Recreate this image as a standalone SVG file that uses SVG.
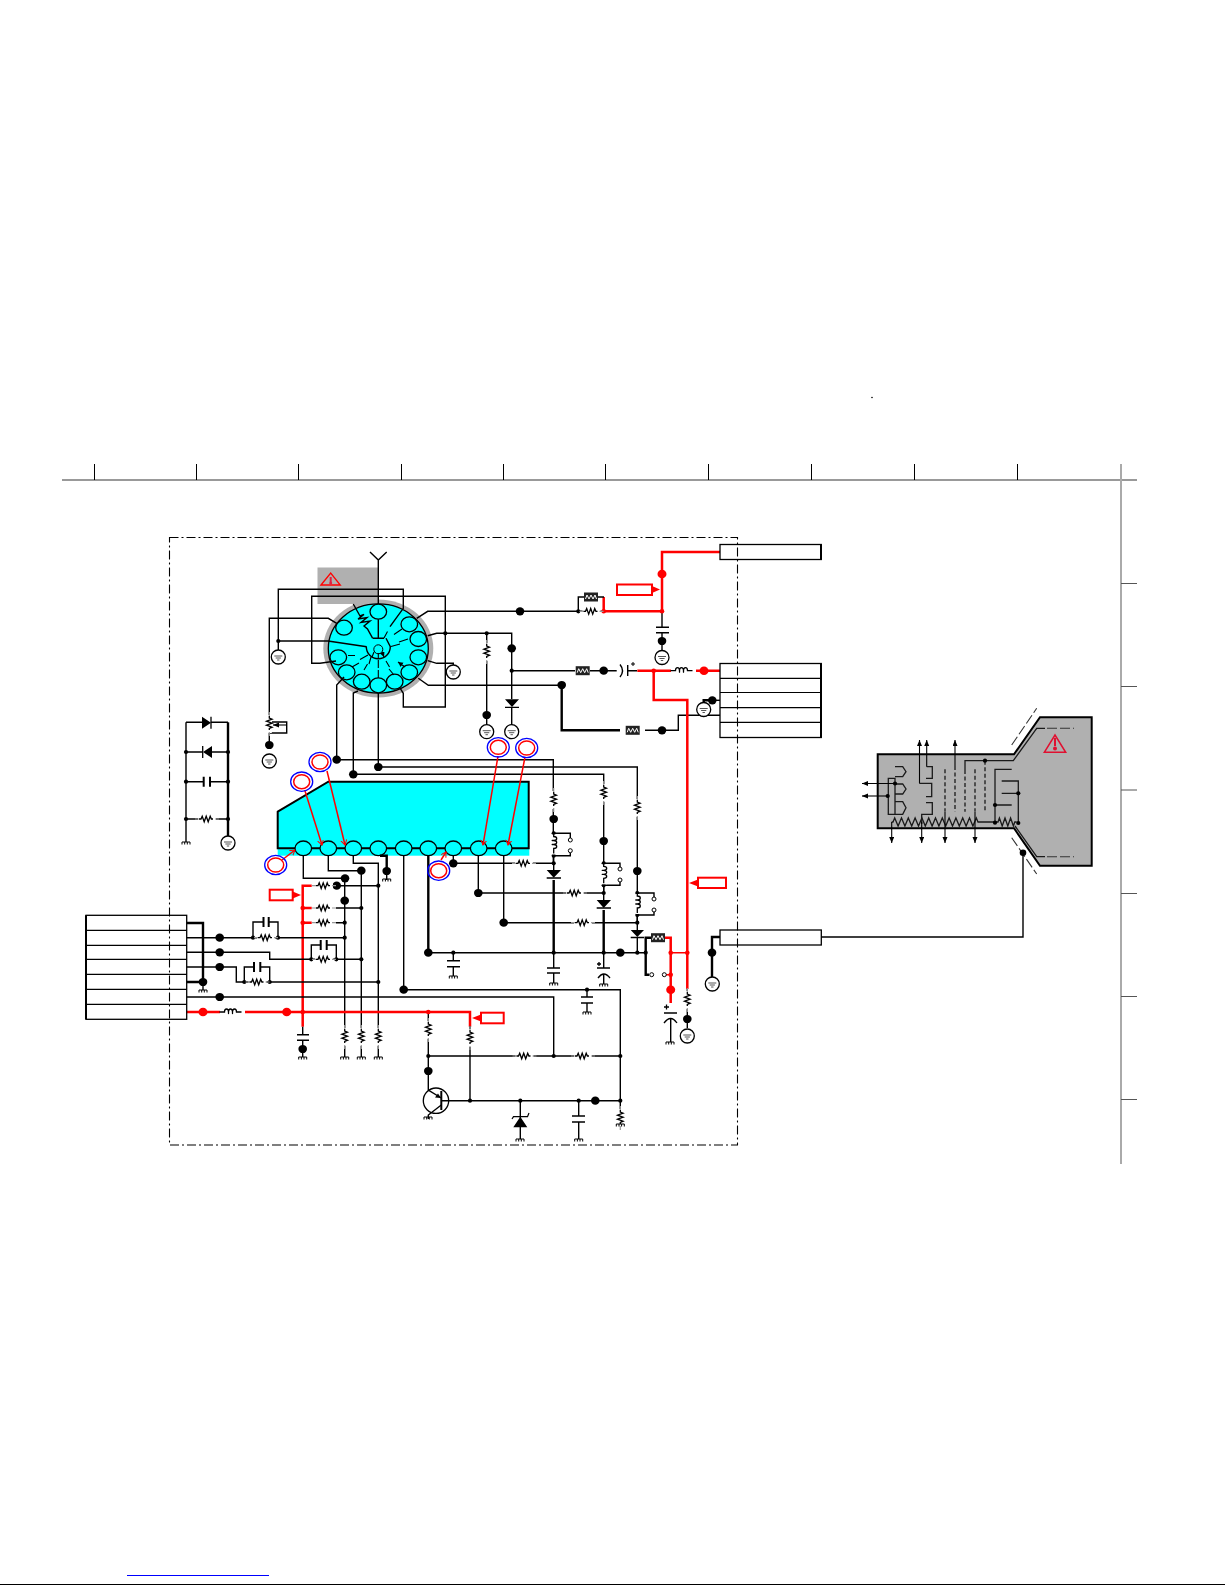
<svg xmlns="http://www.w3.org/2000/svg" width="1225" height="1585" viewBox="0 0 1225 1585">
<style>
.w{stroke:#000;stroke-width:1.4;fill:none}
.t{stroke:#000;stroke-width:2.4;fill:none}
.r{stroke:#f00;stroke-width:2.5;fill:none}
.rt{stroke:#f00;stroke-width:1.4;fill:none}
.f{fill:#000}
.rf{fill:#f00}
.pin{fill:#0ff;stroke:#000;stroke-width:1.3}
.lb{fill:#fff;stroke:#f00;stroke-width:2}
.ov{fill:none;stroke:#00f;stroke-width:1.3}
.ovr{fill:#fff;stroke:#f00;stroke-width:1.5}
.ptr{stroke:#f00;stroke-width:1.5;fill:none;marker-end:url(#ra)}
.a{stroke:#000;stroke-width:1.1;fill:none;marker-end:url(#ba)}
.ta{stroke:#000;stroke-width:1.1;fill:none;marker-end:url(#ba2)}
.frame{stroke:#000;stroke-width:1.1;fill:none;stroke-dasharray:9 3 2 3}
.tw{stroke:#1a1a1a;stroke-width:1.3;fill:none}
.td{stroke:#1a1a1a;stroke-width:1.3;fill:none;stroke-dasharray:4 2.5}
.tdl{stroke:#333;stroke-width:1.1;fill:none;stroke-dasharray:10 3}
</style>
<defs>
<marker id="ra" markerWidth="7" markerHeight="7" refX="5" refY="3" orient="auto" markerUnits="userSpaceOnUse"><path d="M0,0L5,3L0,6" fill="none" stroke="#f00" stroke-width="1"/></marker>
<marker id="ba" markerWidth="8" markerHeight="7" refX="6" refY="2.500" orient="auto" markerUnits="userSpaceOnUse"><path d="M0,0L6,2.500L0,5z" fill="#000"/></marker>
<marker id="ba2" markerWidth="7" markerHeight="6" refX="5" refY="2.500" orient="auto" markerUnits="userSpaceOnUse"><path d="M0,0L5,2.500L0,5z" fill="#000"/></marker>
<circle id="j" r="2.100" class="f"/>
<circle id="jr" r="2.300" class="rf"/>
<ellipse id="d" rx="4.300" ry="4.100" class="f"/>
<ellipse id="dr" rx="4.500" ry="4.300" class="rf"/>
<g id="R"><rect x="-9" y="-2.500" width="18" height="5" fill="#fff"/><path d="M-12,0h4M8,0h4" stroke="#999" stroke-width="1.2" fill="none"/><path d="M-8,0h2l1.200,-2.800l2,5.600l2,-5.600l2,5.600l2,-5.600l1.200,2.800h1.600" stroke="#000" stroke-width="1.3" fill="none"/></g>
<g id="FR"><rect x="-7" y="-4.500" width="14" height="9" fill="#222"/><path d="M-5.500,2l1.500,-4l2,4l2,-4l2,4l2,-4l1.500,4" stroke="#fff" stroke-width="1" fill="none"/></g>
<path id="gs" d="M-4,0h8M-4,0v2.500M-1.300,0v2.500M1.300,0v2.500M4,0v2.500" stroke="#000" stroke-width="1" fill="none"/>
<g id="gc"><circle r="7" fill="#fff" stroke="#000" stroke-width="1.300"/><path d="M-4,-1h8M-2.600,1h5.200M-1.200,3h2.400" stroke="#555" stroke-width="1" fill="none"/></g>
<g id="coil"><rect x="-10" y="-3" width="20" height="5" fill="#fff"/><path d="M-13,0h5c0,-4 4,-4 4,0c0,2 0,2 0,0c0,-4 4,-4 4,0c0,2 0,2 0,0c0,-4 4,-4 4,0h5" stroke="#000" stroke-width="1.300" fill="none"/></g>
<circle id="o" r="2" fill="#fff" stroke="#000" stroke-width="1"/>
</defs>
<rect width="1225" height="1585" fill="#fff"/>
<g id="border">
<path d="M62,480H1137" stroke="#777" stroke-width="1.400"/>
<path d="M94.500,464V480M196.500,464V480M298.500,464V480M401.500,464V480M503.500,464V480M605.500,464V480M708.500,464V480M811.500,464V480M914.500,464V480M1017.500,464V480" stroke="#000" stroke-width="1"/>
<path d="M1121,464V1164" stroke="#aaa" stroke-width="2"/>
<path d="M1121,583.500H1137M1121,686.500H1137M1121,790H1137M1121,893.500H1137M1121,996.500H1137M1121,1099.500H1137" stroke="#555" stroke-width="1"/>
<circle cx="872" cy="397.500" r="0.800" fill="#000"/>
<path d="M127,1575.500H269" stroke="#00f" stroke-width="1.200"/>
<path d="M0,1584.500H1225" stroke="#000" stroke-width="1"/>
</g>
<rect id="board-frame" x="169.500" y="537.500" width="568" height="607.500" class="frame"/>
<g id="warning-box">
<rect x="317.500" y="567.500" width="60.500" height="36.500" fill="#b0b0b0"/>
<path d="M321,585L330.700,573L340.300,585z" fill="none" stroke="#f00" stroke-width="1.300"/><path d="M330.700,577V582" stroke="#e02040" stroke-width="2"/><circle cx="330.700" cy="583" r="1.500" fill="#e02040"/>
</g>
<g id="crt-socket">
<ellipse cx="378.300" cy="648.500" rx="55" ry="49" fill="#b0b0b0"/>
<ellipse cx="378.300" cy="648.500" rx="50" ry="44.700" fill="#0ff" stroke="#000" stroke-width="1.300"/>
<ellipse class="pin" cx="378.300" cy="611.700" rx="8.300" ry="7.500"/>
<ellipse class="pin" cx="344" cy="627.700" rx="8.300" ry="7.500"/>
<ellipse class="pin" cx="409.300" cy="624.300" rx="8.300" ry="7.500"/>
<ellipse class="pin" cx="418.300" cy="639" rx="8.300" ry="7.500"/>
<ellipse class="pin" cx="418.300" cy="657.300" rx="8.300" ry="7.500"/>
<ellipse class="pin" cx="409.300" cy="672.300" rx="8.300" ry="7.500"/>
<ellipse class="pin" cx="394.700" cy="681.700" rx="8.300" ry="7.500"/>
<ellipse class="pin" cx="378.300" cy="685.300" rx="8.300" ry="7.500"/>
<ellipse class="pin" cx="361.700" cy="681.700" rx="8.300" ry="7.500"/>
<ellipse class="pin" cx="346.700" cy="672.300" rx="8.300" ry="7.500"/>
<ellipse class="pin" cx="338.300" cy="657.300" rx="8.300" ry="7.500"/>
<path class="w" d="M366.300,646.700A12,12 0 0 0 390.300,646.700L386,638.300M378.300,619.200V638.300M373,638.300H384"/>
<path class="w" d="M353.300,604L360,616L364,614.500L358,619L367,617.500L361,622.500L370,621L364,626L367.500,629L372.700,638.300"/>
<circle cx="378.300" cy="649.300" r="4.500" fill="none" stroke="#000" stroke-width="1"/>
<path class="ta" d="M384,638L387.500,631.500M402,629L394,634.500M408,639L399,642M391,646.500L400,644M348,655.500L355,655.500M368,655L360,659.500M352,667L359,663M364,670L367.500,664M371,657L369,664M378.300,660V668M386,661L389.500,667M378.300,678V670M394,675L389,669M405,667L398,662"/>
<path class="ta" d="M374,652L372,657M378.300,653V658M382,652L384,657"/>
</g>
<g id="ic">
<rect x="277.700" y="848" width="251.600" height="7.700" fill="#0ff"/>
<path d="M277.700,811.700L328.300,781.700H528.700V848.300H277.700z" fill="#0ff" stroke="#000" stroke-width="2"/>
<ellipse class="pin" cx="303.300" cy="848.300" rx="8.300" ry="7.300"/>
<ellipse class="pin" cx="328.300" cy="848.300" rx="8.300" ry="7.300"/>
<ellipse class="pin" cx="353.300" cy="848.300" rx="8.300" ry="7.300"/>
<ellipse class="pin" cx="378.300" cy="848.300" rx="8.300" ry="7.300"/>
<ellipse class="pin" cx="403.700" cy="848.300" rx="8.300" ry="7.300"/>
<ellipse class="pin" cx="428.300" cy="848.300" rx="8.300" ry="7.300"/>
<ellipse class="pin" cx="453.300" cy="848.300" rx="8.300" ry="7.300"/>
<ellipse class="pin" cx="478.700" cy="848.300" rx="8.300" ry="7.300"/>
<ellipse class="pin" cx="503.700" cy="848.300" rx="8.300" ry="7.300"/>
</g>
<g id="connectors">
<path class="w" d="M370,552L378.300,560L386.700,552M378.300,560V604"/>
<path class="w" d="M278.300,650V589.300H403.300V608.300L390,626.700"/>
<path class="w" d="M278.300,641H328L366.700,646.700"/>
<path class="w" d="M336,661L320,663.300H311.700V596.300H445.300V707H403.300V693.300L400,688"/>
<path class="w" d="M269.300,716V618.300H328.300L336.700,623.300"/>
<path class="w" d="M269.300,730V745M272,722H286.700V733H269.300"/>
<path class="w" d="M416.700,618.300L427.700,611.300H578.300"/>
<path class="w" d="M427.700,635.700L436.700,633.300H511.700V699M511.700,707V725M486.700,633.300V725"/>
<path class="w" d="M427.700,660.700L436.700,663.300H453.300V666"/>
<path class="w" d="M418.300,678.300L428.300,685.300H561.700"/>
<path class="t" d="M561.700,685.300V730.300H620"/>
<path class="w" d="M645,730.300H678.300V715.300H720"/>
<path class="w" d="M344,677L336.700,685V759.700H553.300V862"/>
<path class="w" d="M358,691L353.300,693V774.300H603.700V893"/>
<path class="w" d="M378.300,693V767H637.300V923"/>
<path class="r" d="M720,552H662V611.300H603.700V597"/>
<path class="w" d="M578.300,611.300V597H584M598,597H604M578.300,611.300H604"/>
<path class="w" d="M662,611.300V627.300M662,632.700V650"/>
<path class="w" d="M511.700,670.700H575M590,670.700H616.700M627.700,670.700H637"/>
<path class="w" d="M620,664.500Q625,670.700 620,677M627.700,665V676"/>
<path class="r" d="M637.300,670.700H671M696,670.700H720M653.700,670.700V700H687.300V989"/>
<path class="t" d="M712.300,700.300H703.700V706"/>
<path class="w" d="M712,700.300H720"/>
<path class="w" d="M687.300,989V1028"/>
<path class="w" d="M553.700,833.300H570.300V838M570.300,852.700V855.700H553.700M553.700,855.700V870"/>
<path class="w" d="M603.700,863.300H620V867M620,882V885.300H603.700M603.700,885.300V900"/>
<path class="w" d="M637.300,893H654V897M654,912V915H637.300M637.300,915V930"/>
<path class="t" d="M553.700,880V952.700M603.700,910V952.700"/>
<path class="w" d="M603.700,952.700V968M553.700,952.700V968M553.700,973V983M603.700,974V984"/>
<path class="w" d="M637.300,938V952.700"/>
<path class="w" d="M453.300,856V863.300H553.700M478.300,856V893H603.700M503.700,856V922.700H637.300"/>
<path class="t" d="M428.300,856V952.700"/>
<path class="w" d="M428.300,952.700H645.700M453.300,952.700V960.700M453.300,966.700V976"/>
<path class="t" d="M651,937.700H645.700V974.700H649"/>
<path class="r" d="M665,937.700H670.700V1003"/>
<path class="rt" d="M670.700,952.700H687.300M666,974.700H670.700"/>
<path class="w" d="M670.700,1019V1042"/>
<path class="t" d="M720,937H712V980"/>
<path class="w" d="M821,937H1023V853"/>
<path class="w" d="M303.300,856V878.300H345M344.700,878.300V1057M328.300,856V870.700H361.300V1057M353.300,856V863.300H378.300V1057"/>
<path class="t" d="M380,855.700H386.700V871"/>
<path class="w" d="M386.700,871V880"/>
<path class="w" d="M403.700,856V989.700H620.300V1110M587,989.700V997M587,1003V1012"/>
<path class="r" d="M311.700,885.700H302.700V1026.700"/>
<path class="r" d="M303,908H311.700M303,922.700H311.700"/>
<path class="w" d="M336,885.700H378.300M336,908H361.300M336,922.700H344.700"/>
<path class="w" d="M186.700,937.700H344.700M253,937.700V922H263.500M268.700,922H278V937.700"/>
<path class="w" d="M186.700,952.300H269.700V959.300H361.300M311.300,959.300V945H320.700M326.700,945H336.300V959.300"/>
<path class="w" d="M186.700,967H236.300V982H378.300M244.300,982V967H254M260.300,967H269.700V982"/>
<path class="w" d="M186.700,997H553.700V1056"/>
<path class="r" d="M186.700,1012H220M245,1012H470V1026.700"/>
<path class="t" d="M186.700,923H203V982H186.700"/>
<path class="w" d="M203,982V990"/>
<path class="w" d="M302.700,1026.700V1034.700M302.700,1040.300V1057"/>
<path class="w" d="M428.300,1012V1090L441.300,1098M428.300,1056H620.300M470,1026V1100.700"/>
<path class="w" d="M441.300,1100.700H620.300M441.300,1105L428.300,1115V1119"/>
<path class="w" d="M520.300,1100.700V1118M520.300,1127V1139M578.700,1100.700V1116M578.700,1122V1139"/>
<path class="w" d="M620.300,1110V1124"/>
<path class="w" d="M186,722.300V842M186,722.300H202M211,722.300H228M186,752H203M212,752H228M186,781.700H203.700M210,781.700H228M186,819H228"/>
<path class="t" d="M228,722.300V836"/>
<path class="ptr" d="M282,860L295,850"/>
<path class="ptr" d="M304.700,790L322,845"/>
<path class="ptr" d="M327,771L345,845"/>
<path class="ptr" d="M498,756L483,845"/>
<path class="ptr" d="M525,757L508,845"/>
<path class="ptr" d="M441,860L446,852"/>
</g>
<g id="markers">
<use href="#j" x="278.300" y="641"/>
<use href="#j" x="445.300" y="633.300"/><use href="#j" x="486.700" y="633.300"/>
<use href="#j" x="578.300" y="611.300"/>
<use href="#j" x="511.700" y="670.700"/>
<use href="#d" x="269.300" y="745"/><use href="#d" x="520" y="611.300"/>
<use href="#d" x="511.700" y="648.300"/><use href="#d" x="486.700" y="715"/>
<use href="#d" x="561.700" y="685"/><use href="#d" x="662" y="730.300"/>
<use href="#d" x="603.700" y="670.700"/><use href="#d" x="662" y="641"/>
<use href="#d" x="712.300" y="700.300"/>
<use href="#d" x="336.700" y="759.700"/><use href="#d" x="353.300" y="774.300"/><use href="#d" x="378.300" y="767"/>
<use href="#d" x="553.700" y="819"/><use href="#d" x="603.700" y="841"/><use href="#d" x="637.300" y="871"/>
<use href="#j" x="553.700" y="833.300"/><use href="#j" x="553.700" y="855.700"/><use href="#j" x="553.700" y="863.300"/>
<use href="#j" x="603.700" y="863.300"/><use href="#j" x="603.700" y="885.300"/><use href="#j" x="603.700" y="893"/>
<use href="#j" x="637.300" y="893"/><use href="#j" x="637.300" y="915"/><use href="#j" x="637.300" y="922.700"/>
<use href="#d" x="453.300" y="863.300"/><use href="#d" x="478.300" y="893"/><use href="#d" x="503.700" y="922.700"/>
<use href="#d" x="428.300" y="952.700"/><use href="#j" x="453.300" y="952.700"/><use href="#j" x="553.700" y="952.700"/><use href="#j" x="603.700" y="952.700"/><use href="#d" x="620.300" y="952.700"/><use href="#j" x="637.300" y="952.700"/><use href="#j" x="645.700" y="952.700"/>
<use href="#jr" x="670.700" y="952.700"/><use href="#jr" x="687.300" y="952.700"/><use href="#jr" x="670.700" y="974.700"/>
<use href="#dr" x="670.700" y="989.700"/><use href="#d" x="687.300" y="1019"/>
<use href="#d" x="712" y="952.700"/>
<use href="#dr" x="662" y="574"/><use href="#jr" x="662" y="611.300"/><use href="#jr" x="603.700" y="611.300"/>
<use href="#jr" x="653.700" y="670.700"/><use href="#dr" x="704" y="670.700"/>
<use href="#d" x="345" y="878.300"/><use href="#d" x="361.300" y="870.700"/><use href="#d" x="386.700" y="871"/>
<use href="#d" x="336.700" y="885.700"/><use href="#d" x="344.700" y="900.700"/><use href="#j" x="378.300" y="885.700"/>
<use href="#jr" x="302.700" y="908"/><use href="#jr" x="302.700" y="922.700"/>
<use href="#j" x="361.300" y="908"/><use href="#j" x="344.700" y="922.700"/><use href="#j" x="344.700" y="937.700"/>
<use href="#j" x="253" y="937.700"/><use href="#j" x="278" y="937.700"/>
<use href="#j" x="311.300" y="959.300"/><use href="#j" x="336.300" y="959.300"/><use href="#j" x="361.300" y="959.300"/>
<use href="#j" x="244.300" y="982"/><use href="#j" x="269.700" y="982"/><use href="#j" x="378.300" y="982"/>
<use href="#d" x="219.700" y="937.700"/><use href="#d" x="219.700" y="952.300"/><use href="#d" x="219.700" y="967"/><use href="#d" x="219.700" y="997"/>
<use href="#d" x="203" y="982"/><use href="#dr" x="203" y="1012"/><use href="#dr" x="286.700" y="1012"/>
<use href="#jr" x="302.700" y="1012"/><use href="#jr" x="428.300" y="1012"/>
<use href="#d" x="403.700" y="989.700"/><use href="#j" x="587" y="989.700"/>
<use href="#d" x="302.700" y="1049"/>
<use href="#j" x="428.300" y="1056"/><use href="#j" x="553.700" y="1056"/><use href="#j" x="620.300" y="1056"/>
<use href="#d" x="428.300" y="1071"/>
<use href="#j" x="470" y="1100.700"/><use href="#j" x="520.300" y="1100.700"/><use href="#j" x="578.700" y="1100.700"/><use href="#d" x="595.300" y="1100.700"/><use href="#j" x="620.300" y="1100.700"/>
<use href="#j" x="186" y="752"/><use href="#j" x="228" y="752"/><use href="#j" x="186" y="781.700"/><use href="#j" x="228" y="781.700"/><use href="#j" x="186" y="819"/><use href="#j" x="228" y="819"/>
</g>
<g id="resistors">
<use href="#R" transform="translate(591.500,611.300)"/>
<use href="#R" transform="translate(486.700,652) rotate(90)"/>
<use href="#R" transform="translate(269.300,724) rotate(90)"/>
<path class="a" d="M286,725H273"/>
<use href="#R" transform="translate(553.700,800) rotate(90)"/>
<use href="#R" transform="translate(603.700,793) rotate(90)"/>
<use href="#R" transform="translate(637.300,808) rotate(90)"/>
<use href="#R" transform="translate(524,863.300)"/>
<use href="#R" transform="translate(575,893)"/>
<use href="#R" transform="translate(583,922.700)"/>
<use href="#R" transform="translate(687.300,1000) rotate(90)"/>
<use href="#R" transform="translate(324,885.700)"/>
<use href="#R" transform="translate(324,908)"/>
<use href="#R" transform="translate(324,922.700)"/>
<use href="#R" transform="translate(266,937.700)"/>
<use href="#R" transform="translate(324,959.300)"/>
<use href="#R" transform="translate(257.500,982)"/>
<use href="#R" transform="translate(344.700,1037) rotate(90)"/>
<use href="#R" transform="translate(361.300,1037) rotate(90)"/>
<use href="#R" transform="translate(378.300,1037) rotate(90)"/>
<use href="#R" transform="translate(428.300,1030) rotate(90)"/>
<use href="#R" transform="translate(470,1038) rotate(90)"/>
<use href="#R" transform="translate(524.500,1056)"/>
<use href="#R" transform="translate(583,1056)"/>
<use href="#R" transform="translate(620.300,1118) rotate(90)"/>
<use href="#R" transform="translate(207,819)"/>
<use href="#FR" x="591" y="597"/>
<use href="#FR" x="582.700" y="670.700"/>
<use href="#FR" x="632.700" y="730.300"/>
<use href="#FR" x="658" y="937.700"/>
<use href="#coil" x="683.500" y="670.700"/>
<use href="#coil" x="232.500" y="1012"/>
<use href="#coil" transform="translate(553.700,844.500) rotate(90)"/>
<use href="#coil" transform="translate(603.700,874.300) rotate(90)"/>
<use href="#coil" transform="translate(637.300,904) rotate(90)"/>
</g>
<g id="caps-diodes">
<path d="M656,627.300h13M656,632.700h13M547,968h13M447,960.700h13M447,966.700h13M547,973h13M297,1034.700h12M297,1040.300h12M581,997h12M581,1003h12M572,1116h13M572,1122h13" stroke="#000" stroke-width="1.400" fill="none"/>
<path d="M263.500,917v10M268.700,917v10M320.700,940v10M326.700,940v10M254,962v10M260.300,962v10M203.700,776.700v10M210,776.700v10" stroke="#000" stroke-width="2" fill="none"/>
<path d="M597,968h13M598,978Q603.700,970 610,978M597,964h4M599,962v4" stroke="#000" stroke-width="1.300" fill="none"/>
<path d="M664,1013h13M664,1023Q670.700,1014 677,1023M664,1007h5M666.500,1004.500v5" stroke="#000" stroke-width="1.300" fill="none"/>
<path d="M631,664h4M633,662v4" stroke="#000" stroke-width="1"/>
<path class="f" d="M505,699.300h14l-7,7.700zM546.700,870h14.300l-7.300,7.700zM596.700,900h14.300l-7.300,8zM630.700,930h13.300l-6.700,7zM202,716.700v12l9,-6zM212,746v12l-9,-6zM513.300,1127.300h14l-7,-10.600z"/>
<path d="M505,707.300h14M546.700,878h14.300M596.700,908h14.300M630.700,937.500h13.300M211,716.700v12M202.700,746v12" stroke="#000" stroke-width="1.300" fill="none"/>
<path d="M512,1119l1.500,-2.300h14l1.500,-3.700" stroke="#000" stroke-width="1.200" fill="none"/>
<use href="#o" x="570.300" y="840"/><use href="#o" x="570.300" y="850.700"/>
<use href="#o" x="620" y="869"/><use href="#o" x="620" y="880"/>
<use href="#o" x="654" y="899"/><use href="#o" x="654" y="910"/>
<use href="#o" x="651.700" y="974.700"/><use href="#o" x="664.300" y="974.700"/>
</g>
<g id="transistor"><circle cx="436" cy="1100.700" r="12.700" fill="none" stroke="#000" stroke-width="1.300"/><path d="M441.300,1091V1110" stroke="#000" stroke-width="2"/><path class="f" d="M441,1098l-6,-.5l3,-4z"/></g>
<g id="grounds">
<use href="#gc" x="278.300" y="657"/><use href="#gc" x="453.300" y="672"/><use href="#gc" x="269.300" y="761"/>
<use href="#gc" x="486.700" y="731.700"/><use href="#gc" x="511.700" y="731.700"/><use href="#gc" x="662" y="657.500"/>
<use href="#gc" x="703.700" y="709.500"/><use href="#gc" x="228" y="843"/><use href="#gc" x="712.300" y="984"/><use href="#gc" x="687.300" y="1036"/>
<use href="#gs" x="186" y="842"/><use href="#gs" x="386.700" y="879"/><use href="#gs" x="203" y="990"/>
<use href="#gs" x="302.700" y="1057"/><use href="#gs" x="344.700" y="1057"/><use href="#gs" x="361.300" y="1057"/><use href="#gs" x="378.300" y="1057"/>
<use href="#gs" x="453.300" y="976"/><use href="#gs" x="553.700" y="983"/><use href="#gs" x="603.700" y="984"/><use href="#gs" x="587" y="1012"/>
<use href="#gs" x="670" y="1042"/><use href="#gs" x="428" y="1117"/><use href="#gs" x="520" y="1139"/><use href="#gs" x="578.700" y="1139"/><use href="#gs" x="620.300" y="1124"/>
</g>
<g id="probes">
<ellipse class="ov" cx="275.700" cy="865" rx="11" ry="9.700"/><ellipse class="ovr" cx="275.700" cy="865" rx="8" ry="7"/>
<ellipse class="ov" cx="301.700" cy="781.700" rx="11" ry="9.700"/><ellipse class="ovr" cx="301.700" cy="781.700" rx="8" ry="7"/>
<ellipse class="ov" cx="320" cy="762" rx="11" ry="9.700"/><ellipse class="ovr" cx="320" cy="762" rx="8" ry="7"/>
<ellipse class="ov" cx="498.300" cy="747.300" rx="11" ry="9.700"/><ellipse class="ovr" cx="498.300" cy="747.300" rx="8" ry="7"/>
<ellipse class="ov" cx="526.700" cy="748" rx="11" ry="9.700"/><ellipse class="ovr" cx="526.700" cy="748" rx="8" ry="7"/>
<ellipse class="ov" cx="438.700" cy="870.700" rx="11" ry="9.700"/><ellipse class="ovr" cx="438.700" cy="870.700" rx="8" ry="7"/>
</g>
<g id="voltage-labels">
<rect class="lb" x="617" y="584.500" width="35" height="10.500"/><path class="rf" d="M652,586l8,3.500l-8,3.500z"/>
<rect class="lb" x="698" y="877.700" width="28" height="10.300"/><path class="rf" d="M698,879.500l-9,3.500l9,3.500z"/>
<rect class="lb" x="481" y="1012.700" width="22.700" height="10.600"/><path class="rf" d="M481,1014.500l-9,3.500l9,3.500z"/>
<rect class="lb" x="269.700" y="889.700" width="23" height="10.600"/><path class="rf" d="M292.700,891.500l8.300,3.500l-8.300,3.500z"/>
</g>
<g id="connector-top"><rect x="720" y="544.500" width="101.300" height="15" fill="none" stroke="#000" stroke-width="1.300"/><path d="M821,544.500V559.500" stroke="#000" stroke-width="2"/></g>
<g id="connector-mid"><rect x="720" y="663.500" width="101.300" height="74" fill="none" stroke="#000" stroke-width="1.300"/><path d="M720,678.300H821M720,692.500H821M720,707.700H821M720,722.300H821" stroke="#000" stroke-width="1.200"/><path d="M821,663.500V737.500" stroke="#000" stroke-width="2"/></g>
<g id="connector-hv"><rect x="720" y="930" width="101.300" height="15" fill="none" stroke="#000" stroke-width="1.300"/></g>
<g id="connector-left"><rect x="86" y="915.300" width="100.700" height="104" fill="none" stroke="#000" stroke-width="1.300"/><path d="M86,930.300H186.700M86,945.300H186.700M86,959.300H186.700M86,974.300H186.700M86,989.300H186.700M86,1004.300H186.700" stroke="#000" stroke-width="1.200"/><path d="M86,915.300V1019.300" stroke="#000" stroke-width="2"/></g>
<g id="crt">
<path d="M877.700,754.300H1014L1040,717.300H1091.700V865.700H1040L1014,828.300H877.700z" fill="#b0b0b0" stroke="#000" stroke-width="2"/>
<path class="tw" d="M965,770V760.700H1013.300L1036.700,728.300H1045M1015,826L1036.700,856.700H1045"/>
<path class="tdl" d="M1047,728.300H1074M1047,856.700H1074M1011.700,745L1036.700,708.300M1011.700,837.700L1036.700,874"/>
<path d="M1044.300,752.300L1055,735L1065.700,752.300z" fill="none" stroke="#e01030" stroke-width="1.500"/><path d="M1055,738V746" stroke="#e01030" stroke-width="2"/><circle cx="1055" cy="748.500" r="2" fill="#e01030"/>
<path class="tw" d="M895,766.700h7.700l3.300,5l-3.300,5h-7.700M895,784h7.700l3.300,5l-3.300,5h-7.700M895,801.700h7.700l3.300,6l-3.300,6.600h-14.400V778.300h6.700V814"/>
<path class="a" d="M895,783.500H862"/>
<path class="a" d="M887.700,796H862"/>
<path class="a" d="M919.500,783.500V740"/>
<path class="a" d="M926.700,766.700V740"/>
<path class="a" d="M955,766V740"/>
<path class="tw" d="M919.500,783.300H931.700V796.700H926M926.700,766.700H932.300V778.300H926M926,802.700H932.300V814.300H921.700V824"/>
<path class="td" d="M945,769.300V811.700M955,766V811.700M965,770V811.700M975,769.300V811.700M985,760.700V811.700"/>
<path class="tw" d="M1011.700,769.300H995V823M1011.700,805H995M1001.700,781H1018.300V823M1001.700,793.300H1018.300"/>
<path class="tw" d="M891.700,822h1.300l1.700,-4l3.400,8l3.400,-8l3.400,8l3.400,-8l3.400,8l3.400,-8l3.400,8l3.400,-8l3.400,8l3.400,-8l3.400,8l3.400,-8l3.400,8l3.400,-8l3.400,8l3.400,-8l3.400,8l3.400,-8l3.400,8l3.400,-8l3.400,8l3.400,-8l3.400,8l3.400,-8l1.700,4H998l1.400,-4l2.800,8l2.800,-8l2.800,8l2.800,-8l2.800,8l1.400,-4h1.700"/>
<path class="a" d="M891.700,822V843"/>
<path class="a" d="M921.700,822V843"/>
<path class="a" d="M945,812V843"/>
<path class="a" d="M975,812V843"/>
<use href="#j" x="895" y="783.500"/><use href="#j" x="887.700" y="796"/><use href="#j" x="985" y="760.700"/><use href="#j" x="995" y="805"/><use href="#j" x="995" y="822.700"/><use href="#j" x="1018.300" y="793.300"/><use href="#j" x="1018.300" y="823"/>
<circle cx="1023" cy="852.700" r="3.300" fill="#000"/>
</g>
</svg>
